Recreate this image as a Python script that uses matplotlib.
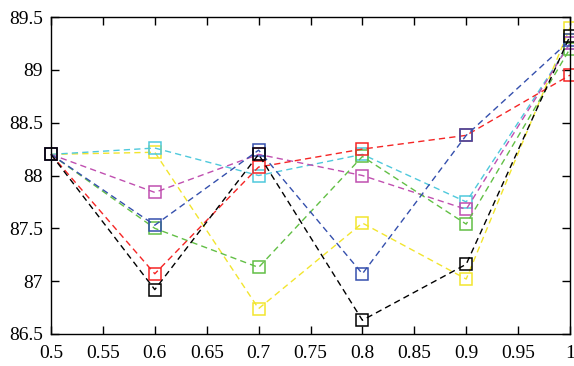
import matplotlib
matplotlib.use('Agg')
import matplotlib.pyplot as plt

x = [0.5, 0.6, 0.7, 0.8, 0.9, 1.0]

yellow = [88.2, 88.22, 86.74, 87.55, 87.02, 89.40]
cyan = [88.2, 88.26, 88.00, 88.20, 87.75, 89.25]
magenta = [88.2, 87.84, 88.20, 88.00, 87.68, 89.25]
green = [88.2, 87.50, 87.13, 88.18, 87.54, 89.20]
red = [88.2, 87.07, 88.08, 88.25, 88.38, 88.95]
blue = [88.2, 87.53, 88.24, 87.07, 88.38, 89.28]
black = [88.2, 86.92, 88.20, 86.63, 87.16, 89.32]

series = [
    (yellow, '#f2e52e'),
    (cyan, '#4fc9dc'),
    (magenta, '#c04fb0'),
    (green, '#62bf45'),
    (red, '#f52525'),
    (blue, '#3550ad'),
    (black, '#000000'),
]

plt.rcParams['font.family'] = 'Liberation Serif'

fig = plt.figure(figsize=(5.74, 3.66), dpi=100)
ax = fig.add_axes([51 / 574, 1 - 334 / 366, 519 / 574, 317 / 366])

for ys, c in series:
    ax.plot(x, ys, color=c, linestyle=(0, (4.5, 3)), linewidth=1.0,
            marker='s', markersize=8.5, markerfacecolor='none',
            markeredgecolor=c, markeredgewidth=1.1, clip_on=False)

ax.set_xlim(0.5, 1.0)
ax.set_ylim(86.5, 89.5)
ax.set_xticks([0.5, 0.55, 0.6, 0.65, 0.7, 0.75, 0.8, 0.85, 0.9, 0.95, 1.0])
ax.set_xticklabels(['0.5', '0.55', '0.6', '0.65', '0.7', '0.75', '0.8', '0.85', '0.9', '0.95', '1'])
ax.set_yticks([86.5, 87, 87.5, 88, 88.5, 89, 89.5])
ax.set_yticklabels(['86.5', '87', '87.5', '88', '88.5', '89', '89.5'])
ax.tick_params(direction='in', top=True, right=True, length=6, width=1,
               labelsize=14)
ax.tick_params(axis='x', pad=8)
ax.tick_params(axis='y', pad=6)
for s in ax.spines.values():
    s.set_linewidth(1.0)

fig.savefig('out.png', dpi=100)
